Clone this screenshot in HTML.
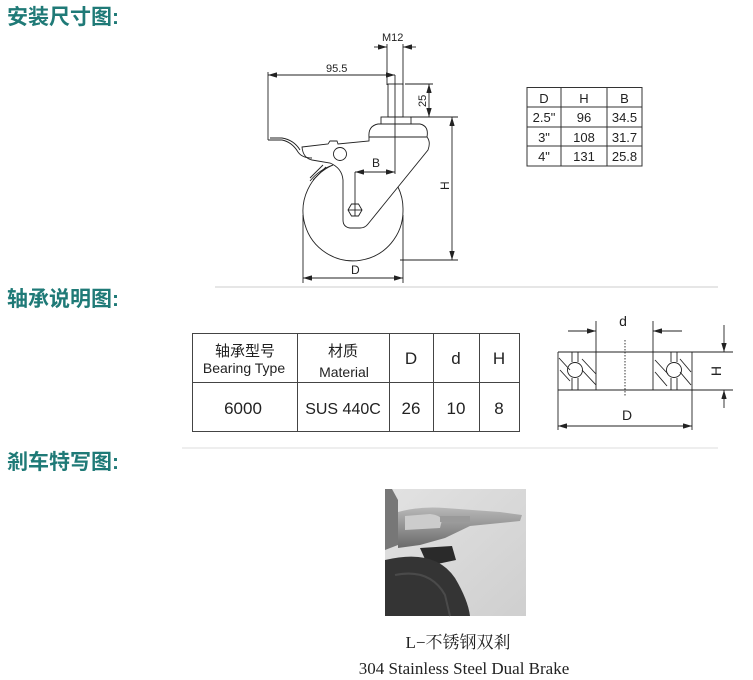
<!DOCTYPE html>
<html><head><meta charset="utf-8">
<style>
html,body{margin:0;padding:0;background:#fff;width:753px;height:680px;overflow:hidden;}
svg{display:block}
.h{font-family:"Liberation Sans","Noto Sans CJK SC",sans-serif;font-weight:bold;font-size:21px;fill:#1f7a77}
.t{font-family:"Liberation Sans","Noto Sans CJK SC",sans-serif;fill:#222}
.s{font-family:"Liberation Serif","Noto Serif CJK SC",serif;fill:#222}
</style></head><body>
<svg width="753" height="680" viewBox="0 0 753 680">
<defs>
<marker id="a" viewBox="0 0 10 6" refX="10" refY="3" markerWidth="10" markerHeight="6" orient="auto-start-reverse"><path d="M0,0L10,3L0,6z" fill="#222"/></marker>
<linearGradient id="pg" x1="0" y1="0" x2="1" y2="1"><stop offset="0" stop-color="#e2e2e2"/><stop offset="1" stop-color="#cfcfcf"/></linearGradient>
<linearGradient id="mg" x1="0" y1="0" x2="0" y2="1"><stop offset="0" stop-color="#b8b8b8"/><stop offset="1" stop-color="#6a6a6a"/></linearGradient>
</defs>
<text class="h" x="7" y="24">安装尺寸图:</text>
<text class="h" x="7" y="306">轴承说明图:</text>
<text class="h" x="7" y="469">剎车特写图:</text>
<line x1="215" y1="287" x2="718" y2="287" stroke="#ccc"/>
<line x1="182" y1="448" x2="718" y2="448" stroke="#ddd"/>

<!-- caster drawing -->
<g stroke="#222" stroke-width="0.9" fill="none">
<line x1="387" y1="44" x2="387" y2="85"/><line x1="403" y1="44" x2="403" y2="85"/>
<line x1="374" y1="47" x2="387" y2="47" marker-end="url(#a)"/><line x1="416" y1="47" x2="403" y2="47" marker-end="url(#a)"/>
<line x1="268" y1="75" x2="395" y2="75" marker-start="url(#a)" marker-end="url(#a)"/>
<line x1="268" y1="72" x2="268" y2="140"/>
<rect x="388" y="84" width="15" height="33"/>
<line x1="405" y1="84" x2="433" y2="84"/>
<line x1="429" y1="84" x2="429" y2="117" marker-start="url(#a)" marker-end="url(#a)"/>
<rect x="381" y="117" width="30" height="7"/>
<path d="M369,137 Q368,126 378,124 L420,124 Q429,126 427,137 Z"/>
<line x1="395" y1="75" x2="395" y2="174"/>
<line x1="410" y1="117" x2="458" y2="117"/>
<line x1="400" y1="260" x2="458" y2="260"/>
<line x1="452" y1="117" x2="452" y2="260" marker-start="url(#a)" marker-end="url(#a)"/>
<path d="M268,140 L282,140 Q292,142 298,152 Q302,158 312,158"/>
<path d="M270,138 L282,138 Q294,140 300,150"/>
<path d="M302,147 L328,144 L330,141 L337,141 L338,144 L369,141 L369,137 L427,137 Q431,142 428,150 L368,224 Q365,228 360,228 L350,228 Q343,227 343,220 L343,180 Q342,168 330,163 L312,160 Q303,158 302,147Z"/>
<circle cx="340" cy="154" r="6.5"/>
<path d="M323,165 L310,178 M326,167 L313,180"/>
<line x1="355" y1="172" x2="395" y2="172" marker-start="url(#a)" marker-end="url(#a)"/>
<line x1="355" y1="172" x2="355" y2="205"/>
<polygon points="348,210 351.5,204 358.5,204 362,210 358.5,216 351.5,216"/>
<line x1="348" y1="210" x2="362" y2="210"/><line x1="355" y1="204" x2="355" y2="216"/>
<path d="M333,165 A50,50 0 1 0 403,210 A50,50 0 0 0 398,187"/>
<path d="M333,165 A50,50 0 0 0 310,181"/>
<line x1="303" y1="215" x2="303" y2="283"/><line x1="403" y1="215" x2="403" y2="283"/>
<line x1="303" y1="278" x2="403" y2="278" marker-start="url(#a)" marker-end="url(#a)"/>
</g>
<g class="t" font-size="11">
<text x="382" y="41">M12</text>
<text x="326" y="72">95.5</text>
<text x="372" y="167" font-size="12">B</text>
<text x="351" y="274" font-size="12">D</text>
<text transform="translate(426,107) rotate(-90)">25</text>
<text transform="translate(449,190) rotate(-90)" font-size="12">H</text>
</g>

<!-- small table -->
<g stroke="#333" stroke-width="1" fill="none">
<rect x="527" y="87.5" width="115" height="78.5"/>
<line x1="561" y1="87.5" x2="561" y2="166"/><line x1="607" y1="87.5" x2="607" y2="166"/>
<line x1="527" y1="107" x2="642" y2="107"/><line x1="527" y1="127" x2="642" y2="127"/><line x1="527" y1="146" x2="642" y2="146"/>
</g>
<g class="t" font-size="13" text-anchor="middle">
<text x="544" y="103">D</text><text x="584" y="103">H</text><text x="624.5" y="103">B</text>
<text x="544" y="122">2.5"</text><text x="584" y="122">96</text><text x="624.5" y="122">34.5</text>
<text x="544" y="142">3"</text><text x="584" y="142">108</text><text x="624.5" y="142">31.7</text>
<text x="544" y="161">4"</text><text x="584" y="161">131</text><text x="624.5" y="161">25.8</text>
</g>

<!-- bearing table -->
<g stroke="#444" stroke-width="1" fill="none">
<rect x="192.5" y="333.5" width="327" height="98"/>
<line x1="297.5" y1="333" x2="297.5" y2="432"/><line x1="389.5" y1="333" x2="389.5" y2="432"/>
<line x1="433.5" y1="333" x2="433.5" y2="432"/><line x1="479.5" y1="333" x2="479.5" y2="432"/>
<line x1="192" y1="382.5" x2="519" y2="382.5"/>
</g>
<g class="t" text-anchor="middle">
<text x="245" y="356" font-size="15">轴承型号</text>
<text x="244" y="373" font-size="14">Bearing Type</text>
<text x="343" y="356" font-size="15">材质</text>
<text x="344" y="377" font-size="14">Material</text>
<text x="411" y="364" font-size="17">D</text>
<text x="456" y="364" font-size="17">d</text>
<text x="499" y="364" font-size="17">H</text>
<text x="243" y="414" font-size="17">6000</text>
<text x="343" y="414" font-size="16">SUS 440C</text>
<text x="411" y="414" font-size="17">26</text>
<text x="456" y="414" font-size="17">10</text>
<text x="499" y="414" font-size="17">8</text>
</g>

<!-- bearing drawing -->
<g stroke="#222" stroke-width="0.9" fill="none">
<line x1="558" y1="352" x2="733" y2="352"/><line x1="558" y1="390" x2="733" y2="390"/>
<line x1="558" y1="352" x2="558" y2="430"/><line x1="692" y1="352" x2="692" y2="430"/>
<line x1="596" y1="321" x2="596" y2="390"/><line x1="653" y1="321" x2="653" y2="390"/>
<line x1="568" y1="331" x2="596" y2="331" marker-end="url(#a)"/><line x1="682" y1="331" x2="653" y2="331" marker-end="url(#a)"/>
<line x1="558" y1="426" x2="692" y2="426" marker-start="url(#a)" marker-end="url(#a)"/>
<line x1="724" y1="325" x2="724" y2="352" marker-end="url(#a)"/><line x1="724" y1="408" x2="724" y2="390" marker-end="url(#a)"/>
<line x1="625" y1="340" x2="625" y2="397" stroke-dasharray="1.5,1.5"/>
<circle cx="575" cy="370" r="7.5"/><circle cx="674" cy="370" r="7.5"/>
<line x1="572" y1="352" x2="572" y2="362"/><line x1="578" y1="352" x2="578" y2="362"/>
<line x1="572" y1="378" x2="572" y2="390"/><line x1="578" y1="378" x2="578" y2="390"/>
<line x1="671" y1="352" x2="671" y2="362"/><line x1="677" y1="352" x2="677" y2="362"/>
<line x1="671" y1="378" x2="671" y2="390"/><line x1="677" y1="378" x2="677" y2="390"/>
<line x1="559" y1="358" x2="570" y2="370"/><line x1="560" y1="370" x2="570" y2="381"/>
<line x1="582" y1="359" x2="596" y2="374"/><line x1="582" y1="370" x2="596" y2="385"/>
<line x1="655" y1="360" x2="668" y2="374"/><line x1="655" y1="372" x2="667" y2="386"/>
<line x1="680" y1="359" x2="691" y2="372"/><line x1="680" y1="372" x2="691" y2="385"/>
</g>
<g class="t" font-size="14" text-anchor="middle">
<text x="623" y="326">d</text>
<text x="627" y="420">D</text>
<text transform="translate(721,371) rotate(-90)">H</text>
</g>

<!-- photo -->
<rect x="385" y="489" width="141" height="127" fill="url(#pg)"/>
<path d="M385,489 L392,489 L398,500 L398,545 L385,550Z" fill="#777"/>
<path d="M398,512 Q420,506 445,508 L500,512 L522,515 L520,521 L470,526 L445,538 L420,545 L398,548Z" fill="url(#mg)"/>
<path d="M405,516 L430,514 Q440,515 442,520 L440,528 L405,530Z" fill="#ccc"/>
<path d="M440,516 L470,516 L470,522 L440,522Z" fill="#9a9a9a"/>
<path d="M420,548 L452,546 L456,560 L428,566Z" fill="#2a2a2a"/>
<path d="M385,560 Q435,548 455,578 Q468,600 470,616 L385,616Z" fill="#343434"/>
<path d="M395,575 Q430,568 445,595 L450,616" stroke="#4a4a4a" fill="none" stroke-width="2"/>
<text class="s" x="458" y="648" font-size="17" text-anchor="middle">L−不锈钢双剎</text>
<text class="s" x="464" y="674" font-size="17" text-anchor="middle">304 Stainless Steel Dual Brake</text>
</svg>
</body></html>
